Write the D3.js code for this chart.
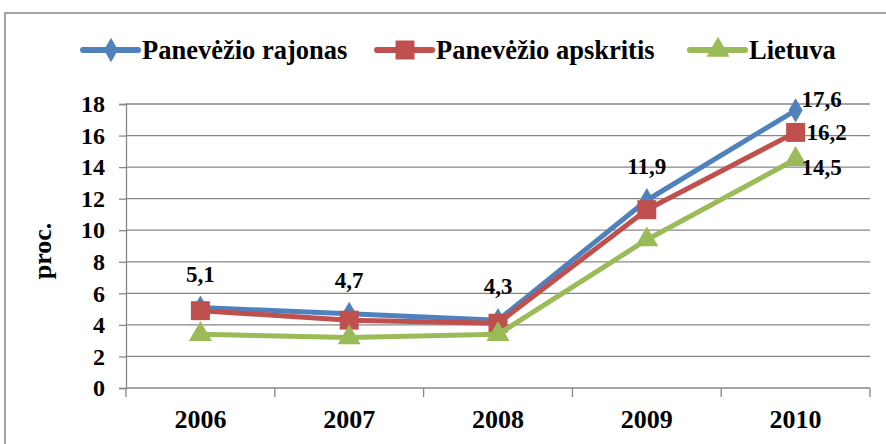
<!DOCTYPE html>
<html>
<head>
<meta charset="utf-8">
<script src="https://cdn.jsdelivr.net/npm/d3@7"></script>
<style>
  body { margin: 0; background: #fff; }
  text { font-family: "Liberation Serif", "Times New Roman", serif; font-weight: bold; fill: #000; }
</style>
</head>
<body>
<figure style="margin:0"></figure>
<script>
const years = ['2006', '2007', '2008', '2009', '2010'];
const seriesNames = ['Panevėžio rajonas', 'Panevėžio apskritis', 'Lietuva'];
const rajonas = [5.1, 4.7, 4.3, 11.9, 17.6];
const apskritis = [4.9, 4.3, 4.1, 11.3, 16.2];
const lietuva = [3.4, 3.2, 3.4, 9.4, 14.5];
const yTicks = [0, 2, 4, 6, 8, 10, 12, 14, 16, 18];

(() => {
  const totalWidth = 886;
  const totalHeight = 444;
  const margin = {top: 104, right: 16, bottom: 56, left: 126};
  const graphWidth = totalWidth - margin.left - margin.right;
  const graphHeight = totalHeight - margin.top - margin.bottom;
  const colors = ['#4F81BD', '#C0504D', '#9BBB59'];
  const shapes = [d3.symbolDiamond, d3.symbolSquare, d3.symbolTriangle];
  const shapeSizes = [170, 360, 230];
  const grey = '#878787';
  const values = [rajonas, apskritis, lietuva];

  const svg = d3.select('figure').append('svg')
    .attr('width', totalWidth)
    .attr('height', totalHeight);

  // outer frame, runs off the right and bottom edges
  svg.append('rect')
    .attr('x', 5).attr('y', 13)
    .attr('width', 950).attr('height', 500)
    .attr('fill', 'none')
    .attr('stroke', grey)
    .attr('stroke-width', 1.5);

  const g = svg.append('g')
    .attr('transform', `translate(${margin.left}, ${margin.top})`);

  const x = d3.scaleBand().domain(years).range([0, graphWidth]);
  const cx = (i) => x(years[i]) + x.bandwidth() / 2;
  const y = d3.scaleLinear().domain([0, 18]).range([graphHeight, 0]);

  // grid
  g.append('g').selectAll('line')
    .data(yTicks.filter(t => t > 0))
    .join('line')
      .attr('x1', 0).attr('x2', graphWidth)
      .attr('y1', d => y(d)).attr('y2', d => y(d))
      .attr('stroke', grey).attr('stroke-width', 1.3);

  // y axis
  const yAxis = d3.axisLeft(y).tickValues(yTicks).tickSize(7).tickPadding(14).tickFormat(d3.format('d'));
  const yGroup = g.append('g').call(yAxis);
  yGroup.select('.domain').attr('stroke', grey).attr('stroke-width', 1.3);
  yGroup.selectAll('.tick line').attr('stroke', grey).attr('stroke-width', 1.3);
  yGroup.selectAll('.tick text')
    .attr('font-size', 24)
    .attr('font-family', '"Liberation Serif", serif')
    .attr('font-weight', 'bold')
    .attr('fill', '#000');

  // x axis: line + boundary ticks + year labels
  const xGroup = g.append('g').attr('transform', `translate(0, ${graphHeight})`);
  xGroup.append('line')
    .attr('x1', 0).attr('x2', graphWidth)
    .attr('stroke', grey).attr('stroke-width', 1.3);
  xGroup.selectAll('line.tk')
    .data(d3.range(years.length + 1))
    .join('line')
      .attr('class', 'tk')
      .attr('x1', i => i * x.step()).attr('x2', i => i * x.step())
      .attr('y1', 0).attr('y2', 9)
      .attr('stroke', grey).attr('stroke-width', 1.3);
  xGroup.selectAll('text')
    .data(years)
    .join('text')
      .attr('x', (d, i) => cx(i))
      .attr('y', 40)
      .attr('text-anchor', 'middle')
      .attr('font-size', 26)
      .text(d => d);

  // y title
  svg.append('text')
    .attr('transform', 'translate(51, 251) rotate(-90)')
    .attr('text-anchor', 'middle')
    .attr('font-size', 26)
    .text('proc.');

  // series
  const line = d3.line().x((d, i) => cx(i)).y(d => y(d));
  values.forEach((vals, s) => {
    const sg = g.append('g');
    sg.append('path')
      .datum(vals)
      .attr('d', line)
      .attr('fill', 'none')
      .attr('stroke', colors[s])
      .attr('stroke-width', 5)
      .attr('stroke-linejoin', 'round');
    sg.selectAll('path.m')
      .data(vals)
      .join('path')
        .attr('class', 'm')
        .attr('transform', (d, i) => `translate(${cx(i)}, ${y(d)})`)
        .attr('d', d3.symbol().type(shapes[s]).size(shapeSizes[s]))
        .attr('fill', colors[s]);
  });

  // data labels: rajonas above the points for 2006-2009
  g.append('g').selectAll('text')
    .data(rajonas.slice(0, 4))
    .join('text')
      .attr('x', (d, i) => cx(i))
      .attr('y', d => y(d) - 26)
      .attr('text-anchor', 'middle')
      .attr('font-size', 23)
      .text(d => d3.format('.1f')(d).replace('.', ','));

  // 2010 labels to the right
  const lastDx = [6, 11, 6];
  const lastDy = [-3, 8, 16];
  const last = years.length - 1;
  g.append('g').selectAll('text')
    .data(values)
    .join('text')
      .attr('x', (d, s) => cx(last) + lastDx[s])
      .attr('y', (d, s) => y(d[last]) + lastDy[s])
      .attr('font-size', 23)
      .text(d => d3.format('.1f')(d[last]).replace('.', ','));

  // legend
  const legendX = [83, 377, 690];
  const legendY = 50;
  const lg = svg.append('g');
  seriesNames.forEach((name, s) => {
    const item = lg.append('g').attr('transform', `translate(${legendX[s]}, ${legendY})`);
    item.append('line')
      .attr('x1', 0).attr('x2', 55)
      .attr('stroke', colors[s])
      .attr('stroke-width', 6)
      .attr('stroke-linecap', 'round');
    item.append('path')
      .attr('transform', 'translate(28, 0)')
      .attr('d', d3.symbol().type(shapes[s]).size(shapeSizes[s]))
      .attr('fill', colors[s]);
    item.append('text')
      .attr('x', 59)
      .attr('y', 9)
      .attr('font-size', 26.5)
      .text(name);
  });
})();
</script>
</body>
</html>
